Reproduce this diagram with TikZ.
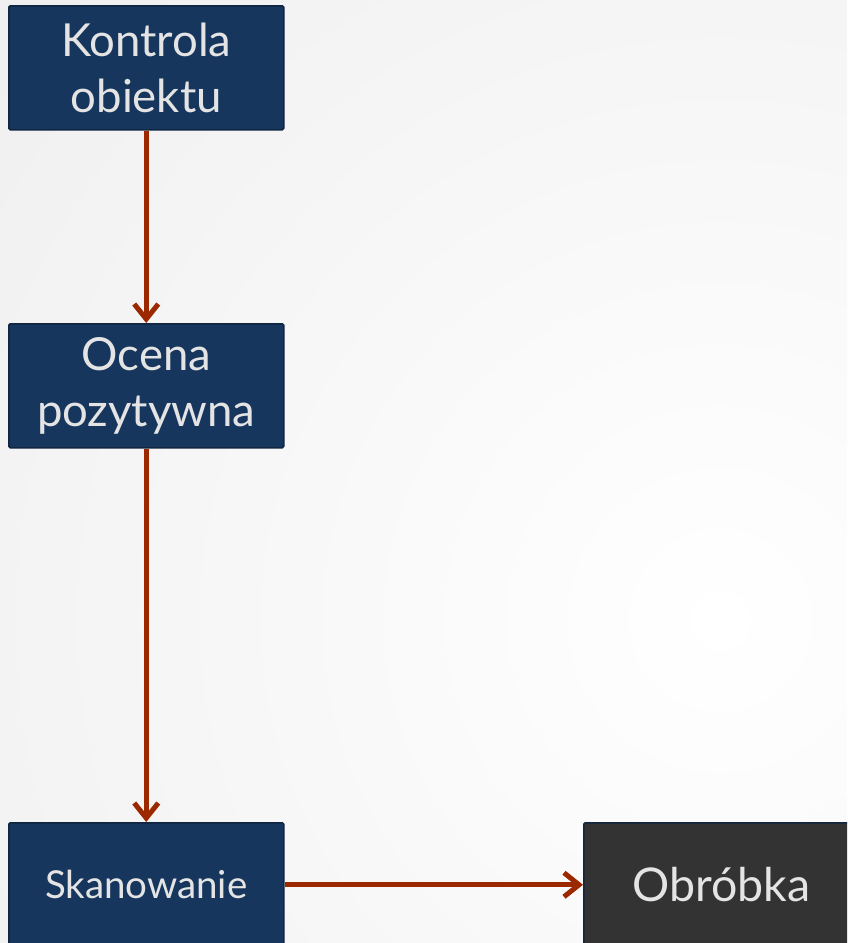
\documentclass[tikz,border=0pt]{standalone}
\usepackage{fontspec}
\setmainfont{Lato}
\usetikzlibrary{arrows.meta}
\definecolor{boxfill}{HTML}{17365D}
\definecolor{boxline}{HTML}{10253F}
\definecolor{darkfill}{HTML}{333333}
\definecolor{arrowc}{HTML}{9C2800}
\definecolor{txt}{HTML}{E4E4E4}
\definecolor{bggray}{HTML}{E0E0E0}
\tikzset{
  box/.style={draw=boxline, line width=1.5pt, fill=boxfill, rounded corners=1.5pt,
    minimum width=275pt, minimum height=124pt, inner sep=0pt, text=txt,
    align=center, anchor=north west},
  darkbox/.style={box, fill=darkfill},
  conn/.style={draw=arrowc, line width=5pt, -{Straight Barb[length=15pt,width=24pt,line width=5pt]}},
}
\begin{document}
\begin{tikzpicture}[x=1pt,y=-1pt]
\useasboundingbox (0,0) rectangle (847,943);
\clip (0,0) rectangle (847,943);
\shade[inner color=white, outer color=bggray] (720,620) circle (1900);
\node[box, font=\fontsize{45.5}{56}\selectfont] (k) at (8,5) {Kontrola\\obiektu};
\node[box, font=\fontsize{45.5}{56}\selectfont] (o) at (8,323) {Ocena\\pozytywna};
\node[box, font=\fontsize{38.5}{44}\selectfont] (s) at (8,822) {Skanowanie};
\node[darkbox, font=\fontsize{46.5}{54}\selectfont] (b) at (583,822) {Obróbka};
\draw[conn] (k.south) -- (o.north);
\draw[conn] (o.south) -- (s.north);
\draw[conn] (s.east) -- (b.west);
\end{tikzpicture}
\end{document}
